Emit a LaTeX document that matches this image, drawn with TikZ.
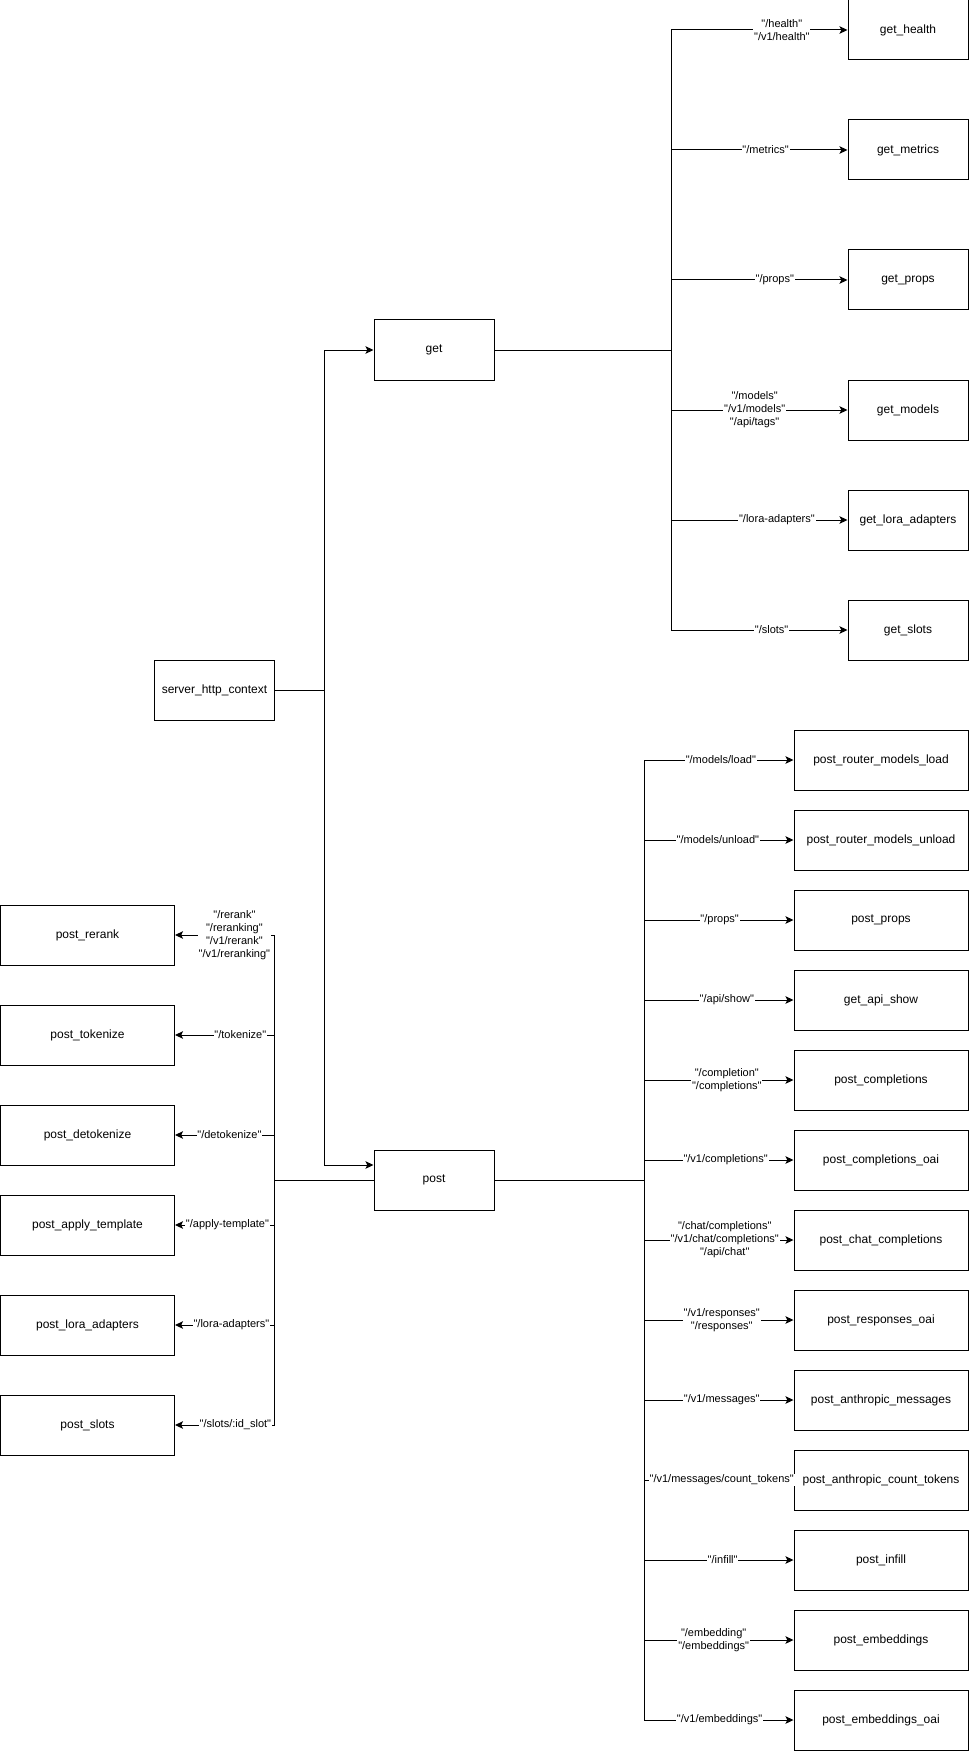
\documentclass[tikz,border=0pt]{standalone}
\usepackage{fontspec}
\setmainfont{Liberation Sans}[Ligatures=TeXOff]
\usetikzlibrary{arrows.meta}
\begin{document}
\begin{tikzpicture}[x=0.75pt,y=-0.75pt,
  box/.style={draw, line width=0.75pt, minimum width=90pt, minimum height=45pt, inner sep=0pt, font=\fontsize{9}{10.8}\selectfont},
  wbox/.style={box, minimum width=130.5pt},
  conn/.style={line width=0.75pt},
  arr/.style={conn, -{Stealth[length=6pt,width=5.6pt,inset=1.3pt]}},
  lbl/.style={fill=white, inner sep=0.6pt, font=\fontsize{8.25}{9.75}\selectfont, align=center}]
\useasboundingbox (0,0) rectangle (969,1751);

% main nodes
\node[box] (sh) at (214.5,690) {server\_http\_context};
\node[box] (get) at (434,350) {get};
\node[box] (post) at (434,1180) {post};

% get children
\node[box] (gh) at (908,30) {get\_health};
\node[box] (gm) at (908,150) {get\_metrics};
\node[box] (gp) at (908,280) {get\_props};
\node[box] (gmod) at (908,410) {get\_models};
\node[box] (gl) at (908,520) {get\_lora\_adapters};
\node[box] (gs) at (908,630) {get\_slots};

% post right children
\node[wbox] (p1) at (881,760) {post\_router\_models\_load};
\node[wbox] (p2) at (881,840) {post\_router\_models\_unload};
\node[wbox] (p3) at (881,920) {post\_props};
\node[wbox] (p4) at (881,1000) {get\_api\_show};
\node[wbox] (p5) at (881,1080) {post\_completions};
\node[wbox] (p6) at (881,1160) {post\_completions\_oai};
\node[wbox] (p7) at (881,1240) {post\_chat\_completions};
\node[wbox] (p8) at (881,1320) {post\_responses\_oai};
\node[wbox] (p9) at (881,1400) {post\_anthropic\_messages};
\node[wbox] (p10) at (881,1480) {post\_anthropic\_count\_tokens};
\node[wbox] (p11) at (881,1560) {post\_infill};
\node[wbox] (p12) at (881,1640) {post\_embeddings};
\node[wbox] (p13) at (881,1720) {post\_embeddings\_oai};

% post left children
\node[wbox] (l1) at (87.5,935) {post\_rerank};
\node[wbox] (l2) at (87.5,1035) {post\_tokenize};
\node[wbox] (l3) at (87.5,1135) {post\_detokenize};
\node[wbox] (l4) at (87.5,1225) {post\_apply\_template};
\node[wbox] (l5) at (87.5,1325) {post\_lora\_adapters};
\node[wbox] (l6) at (87.5,1425) {post\_slots};

% junctions
\coordinate (js) at (324,690);
\coordinate (jg) at (671,350);
\coordinate (jp) at (644,1180);
\coordinate (jl) at (274,1180);

% server -> get / post
\draw[conn] (sh.east) -- (js);
\draw[arr] (js) |- (get.west);
\draw[arr] (js) |- ([yshift=11.25pt]post.west);

% get -> children
\draw[conn] (get.east) -- (jg);
\draw[arr] (jg) |- (gh.west) node[lbl,pos=0.814] {"/health"\\"/v1/health"};
\draw[arr] (jg) |- (gm.west) node[lbl,pos=0.768] {"/metrics"};
\draw[arr] (jg) |- (gp.west) node[lbl,pos=0.794] {"/props"};
\draw[arr] (jg) |- (gmod.west) node[lbl,pos=0.737] {"/models"\\"/v1/models"\\"/api/tags"};
\draw[arr] (jg) |- (gl.west) node[lbl,pos=0.80] {"/lora-adapters"};
\draw[arr] (jg) |- (gs.west) node[lbl,pos=0.785] {"/slots"};

% post -> right children
\draw[conn] (post.east) -- (jp);
\draw[arr] (jp) |- (p1.west) node[lbl,pos=0.757] {"/models/load"};
\draw[arr] (jp) |- (p2.west) node[lbl,pos=0.747] {"/models/unload"};
\draw[arr] (jp) |- (p3.west) node[lbl,pos=0.753] {"/props"};
\draw[arr] (jp) |- (p4.west) node[lbl,pos=0.777] {"/api/show"};
\draw[arr] (jp) |- (p5.west) node[lbl,pos=0.777] {"/completion"\\"/completions"};
\draw[arr] (jp) |- (p6.west) node[lbl,pos=0.773] {"/v1/completions"};
\draw[arr] (jp) |- (p7.west) node[lbl,pos=0.77] {"/chat/completions"\\"/v1/chat/completions"\\"/api/chat"};
\draw[arr] (jp) |- (p8.west) node[lbl,pos=0.76] {"/v1/responses"\\"/responses"};
\draw[arr] (jp) |- (p9.west) node[lbl,pos=0.76] {"/v1/messages"};
\draw[arr] (jp) |- (p10.west) node[lbl,pos=0.76] {"/v1/messages/count\_tokens"};
\draw[arr] (jp) |- (p11.west) node[lbl,pos=0.763] {"/infill"};
\draw[arr] (jp) |- (p12.west) node[lbl,pos=0.733] {"/embedding"\\"/embeddings"};
\draw[arr] (jp) |- (p13.west) node[lbl,pos=0.753] {"/v1/embeddings"};

% post -> left children
\draw[conn] (post.west) -- (jl);
\draw[arr] (jl) |- (l1.east) node[lbl,pos=0.70] {"/rerank"\\"/reranking"\\"/v1/rerank"\\"/v1/reranking"};
\draw[arr] (jl) |- (l2.east) node[lbl,pos=0.67] {"/tokenize"};
\draw[arr] (jl) |- (l3.east) node[lbl,pos=0.725] {"/detokenize"};
\draw[arr] (jl) |- (l4.east) node[lbl,pos=0.735] {"/apply-template"};
\draw[arr] (jl) |- (l5.east) node[lbl,pos=0.715] {"/lora-adapters"};
\draw[arr] (jl) |- (l6.east) node[lbl,pos=0.695] {"/slots/:id\_slot"};
\end{tikzpicture}
\end{document}
